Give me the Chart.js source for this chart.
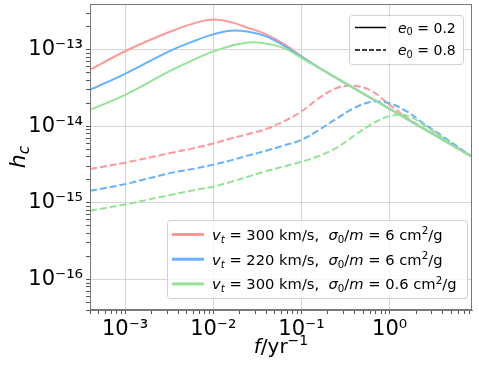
<!DOCTYPE html>
<html>
<head>
<meta charset="utf-8">
<script src="https://cdn.jsdelivr.net/npm/chart.js@4/dist/chart.umd.min.js"></script>
<style>
  html, body { margin: 0; background: #fff; }
  #wrap { width: 479px; height: 366px; }
</style>
</head>
<body>
<div id="wrap"><canvas id="grafico"></canvas></div>
<script>
// frequency grid (1/yr) and characteristic strain
const freq = [0.0004, 0.001, 0.00316, 0.0063, 0.01, 0.0158, 0.0251, 0.0398, 0.0631, 0.1,
              0.158, 0.251, 0.398, 0.631, 1, 1.585, 2.51, 3.98, 6.31, 8.6];

const redSolid   = [5.47e-14, 9.55e-14, 1.70e-13, 2.24e-13, 2.47e-13, 2.29e-13, 1.92e-13, 1.585e-13, 1.19e-13, 8.22e-14,
                    5.86e-14, 4.25e-14, 3.12e-14, 2.30e-14, 1.69e-14, 1.24e-14, 9.12e-15, 6.70e-15, 4.93e-15, 4.01e-15];
const blueSolid  = [2.99e-14, 4.85e-14, 9.51e-14, 1.32e-13, 1.585e-13, 1.77e-13, 1.71e-13, 1.49e-13, 1.13e-13, 8.09e-14,
                    5.81e-14, 4.25e-14, 3.12e-14, 2.30e-14, 1.69e-14, 1.24e-14, 9.12e-15, 6.70e-15, 4.93e-15, 4.01e-15];
const greenSolid = [1.64e-14, 2.58e-14, 5.20e-14, 7.59e-14, 9.51e-14, 1.12e-13, 1.245e-13, 1.20e-13, 1.05e-13, 7.85e-14,
                    5.77e-14, 4.25e-14, 3.12e-14, 2.30e-14, 1.69e-14, 1.24e-14, 9.12e-15, 6.70e-15, 4.93e-15, 4.01e-15];

const redDashed   = [2.77e-15, 3.35e-15, 4.45e-15, 5.25e-15, 5.96e-15, 6.92e-15, 7.94e-15, 9.23e-15, 1.16e-14, 1.56e-14,
                     2.33e-14, 3.16e-14, 3.39e-14, 2.88e-14, 1.91e-14, 1.28e-14, 9.23e-15, 6.84e-15, 5.01e-15, 4.01e-15];
const blueDashed  = [1.44e-15, 1.76e-15, 2.43e-15, 2.82e-15, 3.16e-15, 3.59e-15, 4.17e-15, 4.79e-15, 5.62e-15, 6.64e-15,
                     8.97e-15, 1.26e-14, 1.74e-14, 2.09e-14, 2.00e-14, 1.55e-14, 1.06e-14, 7.41e-15, 5.13e-15, 4.01e-15];
const greenDashed = [7.89e-16, 9.55e-16, 1.26e-15, 1.48e-15, 1.63e-15, 1.88e-15, 2.21e-15, 2.60e-15, 2.99e-15, 3.45e-15,
                     4.10e-15, 5.25e-15, 7.59e-15, 1.07e-14, 1.36e-14, 1.38e-14, 1.02e-14, 7.08e-15, 4.90e-15, 4.01e-15];

// legend entries
const eccs = ['0.2', '0.8'];
const speeds = ['300', '220', '300'];
const sigmas = ['6', '6', '0.6'];
const colors = ['#ff9999', '#66b2ff', '#94e494'];

const FONT = '"DejaVu Sans"';
const SUP = {'-': '\u207b', '0': '\u2070', '1': '\u00b9', '2': '\u00b2', '3': '\u00b3', '4': '\u2074',
             '5': '\u2075', '6': '\u2076', '7': '\u2077', '8': '\u2078', '9': '\u2079'};

function isDecade(v) {
    const e = Math.log10(v);
    return Math.abs(e - Math.round(e)) < 1e-6;
}
function tickLabel(v) {
    if (!isDecade(v)) return '';
    return '10' + String(Math.round(Math.log10(v))).split('').map(c => SUP[c]).join('');
}
// keep only 1..9 x 10^n ticks (drop the 1.5 ones and the min/max end ticks)
function keepSteps(scale) {
    scale.ticks = scale.ticks.filter(t => {
        const m = t.value / Math.pow(10, Math.floor(Math.log10(t.value) + 1e-9));
        return Math.abs(m - Math.round(m)) < 1e-6;
    });
}

function pts(ys) { return freq.map((f, i) => ({x: f, y: ys[i]})); }

function line(ys, color, dashed) {
    return {
        data: pts(ys),
        borderColor: color,
        borderWidth: 2,
        borderDash: dashed ? [7, 3] : [],
        pointRadius: 0,
        fill: false,
        tension: 0.35
    };
}

// text with italic / subscript / superscript pieces
function richWidth(ctx, parts, size) {
    let w = 0;
    parts.forEach(([t, st]) => {
        const fs = (st.includes('b') || st.includes('p')) ? size * 0.7 : size;
        ctx.font = (st.includes('i') ? 'italic ' : '') + fs + 'px ' + FONT;
        w += ctx.measureText(t).width;
    });
    return w;
}
function drawRich(ctx, x, y, parts, size) {
    ctx.textBaseline = 'alphabetic';
    ctx.textAlign = 'left';
    parts.forEach(([t, st]) => {
        let fs = size, dy = 0;
        if (st.includes('b')) { fs = size * 0.7; dy = size * 0.2; }
        if (st.includes('p')) { fs = size * 0.7; dy = -size * 0.4; }
        ctx.font = (st.includes('i') ? 'italic ' : '') + fs + 'px ' + FONT;
        ctx.fillText(t, x, y + dy);
        x += ctx.measureText(t).width;
    });
}

function legendBox(ctx, x1, y1, x2, y2) {
    ctx.save();
    ctx.beginPath();
    ctx.roundRect(x1 + 0.5, y1 + 0.5, x2 - x1, y2 - y1, 3);
    ctx.fillStyle = 'rgba(255,255,255,0.8)';
    ctx.fill();
    ctx.strokeStyle = '#d0d0d0';
    ctx.lineWidth = 1;
    ctx.stroke();
    ctx.restore();
}

const extras = {
    id: 'extras',
    afterDatasetsDraw(chart) {
        const ctx = chart.ctx;
        const a = chart.chartArea;
        ctx.save();
        ctx.strokeStyle = '#777';
        ctx.lineWidth = 1;
        ctx.strokeRect(Math.round(a.left) + 0.5, Math.round(a.top) + 0.5,
                       Math.round(a.right - a.left) - 1, Math.round(a.bottom - a.top) - 1);
        ctx.restore();
    },
    afterDraw(chart) {
        const ctx = chart.ctx;
        const a = chart.chartArea;
        ctx.save();
        ctx.fillStyle = '#000';

        // eccentricity legend
        legendBox(ctx, 349, 15, 463, 64);
        eccs.forEach((e, i) => {
            const y = 27.5 + i * 22.5;
            ctx.save();
            ctx.strokeStyle = '#000';
            ctx.lineWidth = 1.5;
            ctx.setLineDash(i === 0 ? [] : [5, 2]);
            ctx.beginPath();
            ctx.moveTo(355, y);
            ctx.lineTo(386, y);
            ctx.stroke();
            ctx.restore();
            drawRich(ctx, 398, y + 5, [['e', 'i'], ['0', 'b'], [' = ' + e, 'n']], 14);
        });

        // model legend
        legendBox(ctx, 167, 220, 467, 298);
        speeds.forEach((v, i) => {
            const y = 234.5 + i * 24.7;
            ctx.save();
            ctx.strokeStyle = colors[i];
            ctx.lineWidth = 3;
            ctx.beginPath();
            ctx.moveTo(172, y);
            ctx.lineTo(204, y);
            ctx.stroke();
            ctx.restore();
            drawRich(ctx, 212, y + 5.5, [['v', 'i'], ['t', 'ib'], [' = ' + v + ' km/s,  ', 'n'],
                ['\u03c3', 'i'], ['0', 'b'], ['/', 'n'], ['m', 'i'], [' = ' + sigmas[i] + ' cm', 'n'],
                ['2', 'p'], ['/g', 'n']], 14.7);
        });

        // axis titles
        const xt = [['f', 'i'], ['/yr', 'n'], ['\u22121', 'p']];
        const xw = richWidth(ctx, xt, 20);
        drawRich(ctx, (a.left + a.right) / 2 - xw / 2, 353, xt, 20);

        const yt = [['h', 'i'], ['c', 'ib']];
        const yw = richWidth(ctx, yt, 22);
        ctx.translate(25, (a.top + a.bottom) / 2);
        ctx.rotate(-Math.PI / 2);
        drawRich(ctx, -yw / 2, 0, yt, 22);
        ctx.restore();
    }
};

function axis(min, max, fit) {
    return {
        type: 'logarithmic',
        min: min,
        max: max,
        afterBuildTicks: keepSteps,
        afterFit: s => {
            fit(s);
            s.paddingTop = 0; s.paddingBottom = 0;
            s.paddingLeft = 0; s.paddingRight = 0;
        },
        border: {color: '#777'},
        grid: {
            color: c => (c.tick && isDecade(c.tick.value)) ? '#d6d6d6' : 'rgba(0,0,0,0)',
            tickColor: '#555',
            tickLength: 4,
            drawTicks: true
        },
        ticks: {
            autoSkip: false,
            maxRotation: 0,
            color: '#000',
            padding: 3,
            font: {family: 'DejaVu Sans', size: 21},
            callback: v => tickLabel(v)
        }
    };
}

new Chart(document.getElementById('grafico'), {
    type: 'line',
    data: {
        datasets: [
            line(greenDashed, colors[2], true),
            line(greenSolid, colors[2], false),
            line(blueDashed, colors[1], true),
            line(blueSolid, colors[1], false),
            line(redDashed, colors[0], true),
            line(redSolid, colors[0], false)
        ]
    },
    options: {
        responsive: true,
        maintainAspectRatio: false,
        animation: false,
        layout: {padding: {left: 0, top: 4, right: 7, bottom: 0}},
        plugins: {legend: {display: false}, tooltip: {enabled: false}},
        scales: {
            x: axis(4e-4, 8.6, s => { s.height = 56; }),
            y: axis(4e-17, 3.95e-13, s => { s.width = 90; })
        }
    },
    plugins: [extras]
});
</script>
</body>
</html>
